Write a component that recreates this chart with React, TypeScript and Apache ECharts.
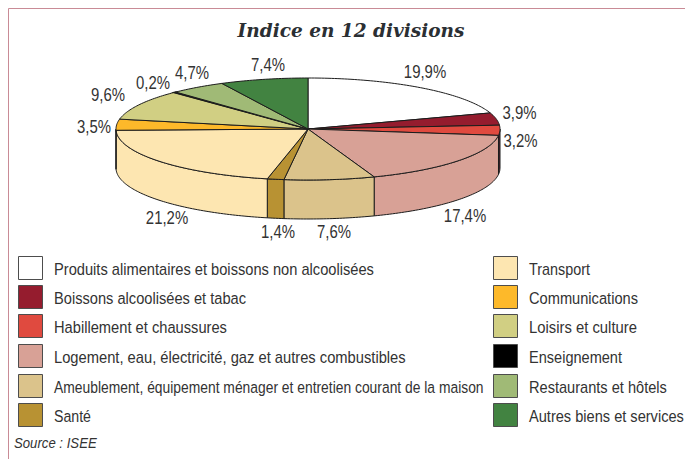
import React, { useEffect, useRef } from "react";
import * as echarts from "echarts";

const categories = [
  "Produits alimentaires et boissons non alcoolisées",
  "Boissons alcoolisées et tabac",
  "Habillement et chaussures",
  "Logement, eau, électricité, gaz et autres combustibles",
  "Ameublement, équipement ménager et entretien courant de la maison",
  "Santé",
  "Transport",
  "Communications",
  "Loisirs et culture",
  "Enseignement",
  "Restaurants et hôtels",
  "Autres biens et services",
];
const values = [19.9, 3.9, 3.2, 17.4, 7.6, 1.4, 21.2, 3.5, 9.6, 0.2, 4.7, 7.4];
const valueLabels = ["19,9%", "3,9%", "3,2%", "17,4%", "7,6%", "1,4%", "21,2%", "3,5%", "9,6%", "0,2%", "4,7%", "7,4%"];
const colors = ["#ffffff", "#951c2e", "#e04a3f", "#d8a196", "#dbc38b", "#b89233", "#fde6b1", "#fdb92a", "#d1cf83", "#000000", "#a0ba76", "#428341"];
const wallColors = ["#ffffff", "#951c2e", "#4f2230", "#d8a196", "#dbc38b", "#b89233", "#fde6b1", "#fdb92a", "#d1cf83", "#000000", "#a0ba76", "#428341"];

const labelAnchors = [
  [425, 72], [519.5, 113], [520.5, 141], [465, 216], [334, 232], [278, 232],
  [167, 218], [94, 127], [108, 95], [153, 83], [192, 73], [268, 65],
];
const legendRowTops = [256, 285, 314, 344, 374, 403];
const legendTextWidths = [320, 192, 173, 352, 430, 37, 61, 109, 108, 93, 138, 155];

const CX = 308, CY = 129, RX = 192, RY = 51, DEPTH = 39;
const SANS = '"Liberation Sans", Arial, sans-serif';
const TEXT = "#333333";
const EDGE = "#1c1c1c";
const NARROW_LABEL = 0.83;
const LEGEND_FONT = `17px ${SANS}`;

const measureCtx = document.createElement("canvas").getContext("2d")!;
function fitScale(text: string, font: string, width: number) {
  measureCtx.font = font;
  return width / measureCtx.measureText(text).width;
}

const total = values.reduce((a, b) => a + b, 0);
const startAngle = (i: number) => (values.slice(0, i).reduce((a, b) => a + b, 0) / total) * 360;

function rimPoint(deg: number, dy = 0): number[] {
  const r = (deg * Math.PI) / 180;
  return [CX + RX * Math.sin(r), CY - RY * Math.cos(r) + dy];
}
function arc(a0: number, a1: number, dy = 0): number[][] {
  const n = Math.max(2, Math.ceil(a1 - a0) + 1);
  const out: number[][] = [];
  for (let k = 0; k < n; k++) out.push(rimPoint(a0 + ((a1 - a0) * k) / (n - 1), dy));
  return out;
}

function sliceSeries(i: number) {
  return {
    type: "custom",
    name: categories[i],
    coordinateSystem: "none",
    silent: true,
    itemStyle: { color: colors[i] },
    data: [values[i]],
    renderItem: (_p: any, api: any) => {
      const a0 = startAngle(i);
      const a1 = a0 + (api.value(0) / total) * 360;
      const children: any[] = [];
      const w0 = Math.max(a0, 90);
      const w1 = Math.min(a1, 270);
      if (w1 > w0) {
        children.push({
          type: "polygon",
          shape: { points: [...arc(w0, w1), ...arc(w0, w1, DEPTH).reverse()] },
          style: { fill: wallColors[i], stroke: EDGE, lineWidth: 1 },
        });
      }
      children.push({
        type: "polygon",
        shape: { points: [[CX, CY], ...arc(a0, a1)] },
        style: { fill: colors[i], stroke: EDGE, lineWidth: i === 9 ? 1.4 : 1 },
      });
      children.push({
        type: "text",
        x: labelAnchors[i][0],
        y: labelAnchors[i][1],
        scaleX: NARROW_LABEL,
        style: {
          text: valueLabels[i],
          fill: TEXT,
          font: `18px ${SANS}`,
          align: "center",
          verticalAlign: "middle",
        },
      });
      const col = i < 6 ? 0 : 1;
      const row = i % 6;
      const top = legendRowTops[row];
      const swatchX = col === 0 ? 18 : 493;
      children.push({
        type: "rect",
        shape: { x: swatchX + 0.5, y: top + 0.5, width: 24, height: 23 },
        style: { fill: colors[i], stroke: "#4d4d4d", lineWidth: 1 },
      });
      children.push({
        type: "text",
        x: swatchX + 36,
        y: top + 13,
        scaleX: fitScale(categories[i], LEGEND_FONT, legendTextWidths[i]),
        style: {
          text: categories[i],
          fill: TEXT,
          font: LEGEND_FONT,
          align: "left",
          verticalAlign: "middle",
        },
      });
      return { type: "group", children };
    },
  };
}

export default function App() {
  const ref = useRef<HTMLDivElement>(null);
  useEffect(() => {
    const chart = echarts.init(ref.current!, null, { renderer: "svg" });
    chart.setOption({
      animation: false,
      backgroundColor: "#ffffff",
      title: {
        text: "Indice en 12 divisions",
        left: 351,
        top: 21,
        textAlign: "center",
        padding: 0,
        textStyle: {
          color: "#2b2f33",
          fontFamily: '"DejaVu Serif", serif',
          fontStyle: "italic",
          fontWeight: "bold",
          fontSize: 18.5,
        },
      },
      graphic: [
        {
          type: "polyline",
          shape: { points: [[8.5, 459], [8.5, 8.5], [685, 8.5]] },
          style: { stroke: "#c98b96", lineWidth: 1, fill: "none" },
        },
        {
          type: "text",
          x: 14,
          y: 443,
          scaleX: 0.85,
          style: {
            text: "Source : ISEE",
            fill: TEXT,
            font: `italic 15.5px ${SANS}`,
            verticalAlign: "middle",
          },
        },
      ],
      series: values.map((_, i) => sliceSeries(i)),
    });
    return () => chart.dispose();
  }, []);
  return <div ref={ref} style={{ position: "fixed", left: 0, top: 0, width: 685, height: 459 }} />;
}
